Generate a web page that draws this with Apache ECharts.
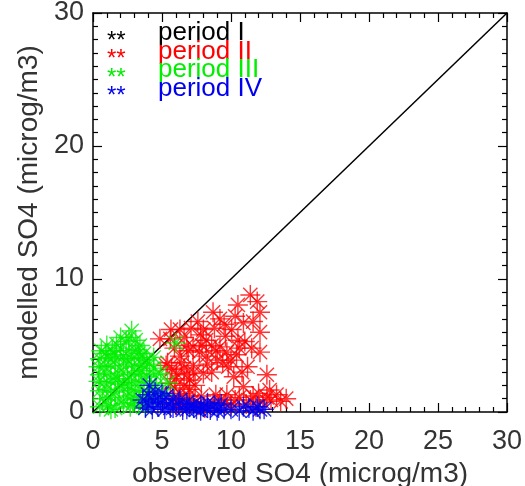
<!DOCTYPE html>
<html>
<head>
<meta charset="utf-8">
<script src="https://cdn.jsdelivr.net/npm/echarts@6/dist/echarts.min.js"></script>
<style>
  html, body { margin: 0; padding: 0; background: #fff; }
  #chart { width: 525px; height: 486px; }
</style>
</head>
<body>
<div id="chart"></div>
<script>
  // values, [observed, modelled]
  var periodNames = ['period I', 'period II', 'period III', 'period IV']
  var periodColors = ['#000000', '#ff0000', '#00ee00', '#0000ee']

  var period1 = []

  var period2 = [
    [11.4, 8.8], [11.9, 8.3], [10.5, 8.05], [12.1, 7.5], [8.7, 7.5], [10.3, 7.2],
    [9.2, 7.0], [7.6, 6.8], [11.6, 6.8], [10.9, 6.7], [9.5, 6.6], [8.8, 6.3], [6.3, 6.2],
    [5.65, 6.2], [10.05, 6.2], [7.1, 6.3], [8.0, 6.2], [12.1, 6.0], [7.8, 5.8], [9.6, 5.7],
    [6.6, 5.6], [5.6, 5.5], [4.85, 5.5], [8.2, 5.4], [10.5, 5.4], [11.0, 5.3],
    [6.8, 5.0], [7.9, 5.0], [8.6, 5.0], [9.2, 4.9], [7.25, 4.9], [5.9, 4.8], [11.5, 4.8],
    [10.6, 4.8], [6.9, 4.6], [8.9, 4.6], [7.7, 4.5], [9.7, 4.5], [12.1, 4.5], [10.4, 4.3],
    [8.2, 4.2], [6.3, 4.2], [9.0, 3.9], [10.0, 3.9], [9.4, 3.7], [5.4, 3.7], [6.4, 3.7],
    [8.3, 3.6], [7.25, 3.5], [5.3, 3.5], [11.2, 3.4], [9.8, 3.4], [6.6, 3.3], [5.7, 3.2],
    [7.3, 3.0], [8.6, 3.0], [10.8, 3.0], [6.05, 2.9], [8.0, 2.9], [6.8, 2.8], [12.6, 2.8],
    [10.2, 2.65], [6.0, 2.5], [7.0, 2.4], [5.6, 2.15], [6.6, 2.0], [7.4, 2.0],
    [10.9, 1.9], [5.9, 1.8], [7.0, 1.7], [12.8, 1.65], [6.3, 1.4], [12.0, 1.4],
    [9.7, 1.3], [13.3, 1.3], [8.9, 1.3], [7.85, 1.2], [11.6, 1.2], [6.9, 1.2], [10.6, 1.1],
    [12.6, 1.1], [6.2, 1.0], [14.0, 1.0], [5.8, 0.9], [9.2, 0.9], [10.3, 0.9], [11.4, 0.9],
    [12.9, 0.9], [7.2, 0.8], [13.6, 0.8], [12.3, 0.75], [9.6, 0.7], [8.7, 0.65], [7.6, 0.6],
    [11.1, 0.6], [10.0, 0.5], [6.0, 0.5], [6.5, 0.4], [11.8, 0.4], [8.1, 0.3]
  ]

  var period3 = [
    [0.5, 0.4], [1.1, 0.5], [1.3, 0.2], [1.6, 0.3], [2.2, 0.6], [2.7, 0.4], [3.3, 0.5], [3.8, 0.4],
    [0.7, 1.0], [1.3, 1.1], [1.9, 0.9], [2.5, 1.2], [2.9, 0.7], [3.0, 1.0], [3.6, 1.1], [4.0, 1.0],
    [0.5, 1.6], [1.0, 1.7], [1.6, 1.5], [2.2, 1.8], [2.8, 1.6], [3.4, 1.7], [3.9, 1.5],
    [0.4, 2.3], [0.8, 2.2], [1.3, 2.3], [1.9, 2.1], [2.6, 2.0], [2.5, 2.4], [3.1, 2.2], [3.7, 2.3],
    [4.2, 2.1], [1.8, 2.5], [5.4, 2.2],
    [0.5, 2.8], [1.0, 2.9], [1.6, 2.7], [2.2, 3.0], [2.8, 2.8], [3.3, 2.9], [3.9, 2.7], [4.5, 2.8],
    [0.4, 3.4], [0.8, 3.4], [1.3, 3.5], [1.9, 3.3], [2.5, 3.6], [3.0, 3.4], [3.5, 3.1], [3.6, 3.5],
    [4.4, 3.3], [4.1, 3.6],
    [0.5, 4.0], [1.1, 4.1], [1.6, 3.9], [2.2, 4.2], [2.4, 4.0], [2.8, 4.0], [3.4, 4.1], [3.9, 3.9],
    [4.4, 4.1], [0.9, 4.4], [1.6, 4.3], [3.3, 4.4],
    [0.6, 4.6], [1.4, 4.6], [2.0, 4.8], [2.6, 4.6], [3.2, 4.7], [3.7, 4.4],
    [1.0, 5.0], [1.7, 5.1], [3.4, 5.0], [2.0, 5.6], [2.4, 5.3], [2.6, 5.6], [2.8, 6.1], [3.1, 5.4],
    [4.6, 2.0], [5.1, 1.3], [4.9, 2.9], [4.3, 1.0], [6.0, 5.2]
  ]

  var period4 = [
    [4.1, 2.0], [4.5, 1.5], [5.0, 1.4], [4.0, 1.3], [5.3, 1.2], [4.7, 1.0], [5.8, 1.0],
    [3.6, 0.9], [6.3, 0.9], [4.4, 0.8], [4.9, 0.7], [3.9, 0.7], [6.8, 0.7], [8.3, 0.7],
    [5.5, 0.6], [6.2, 0.6], [7.3, 0.6], [9.3, 0.6], [7.8, 0.5], [8.8, 0.5],
    [3.8, 0.3], [4.3, 0.2], [4.7, 0.4], [5.2, 0.2], [5.6, 0.3], [5.8, 0.3],
    [6.5, 0.15], [6.8, 0.2], [7.0, 0.4], [7.3, 0.3], [7.5, 0.2], [7.8, 0.1], [8.0, 0.4],
    [8.3, 0.3], [8.5, 0.15], [9.0, 0.1], [9.1, 0.3], [9.5, 0.2], [10.0, 0.2], [10.6, 0.1],
    [10.9, 0.4], [11.3, 0.3], [11.6, 0.1], [11.9, 0.4], [12.1, 0.2], [12.4, 0.2]
  ]

  var oneToOne = [[0, 0], [30, 30]]
  var xTicks = { min: 0, max: 30, interval: 5 }
  var yTicks = { min: 0, max: 30, interval: 10 }

  var star = 'path://M0,-1L0,1M-1,0L1,0M-0.71,-0.71L0.71,0.71M-0.71,0.71L0.71,-0.71'
  var labelFont = 'Liberation Sans'
  var textColor = '#333'

  function boxAxis (ticks, minorSplit, pos, showLabels, name) {
    return {
      type: 'value',
      position: pos,
      min: ticks.min,
      max: ticks.max,
      interval: ticks.interval,
      name: name,
      nameLocation: 'middle',
      nameGap: pos === 'bottom' ? 46 : 46,
      nameTextStyle: { fontSize: 28, color: textColor, fontFamily: labelFont },
      axisLine: { show: true, onZero: false, lineStyle: { color: '#000', width: 1.5 } },
      axisTick: { show: true, inside: true, length: 9, lineStyle: { color: '#000', width: 1.2 } },
      minorTick: { show: true, splitNumber: minorSplit, length: 5, lineStyle: { color: '#000', width: 1.2 } },
      axisLabel: { show: showLabels, fontSize: 27, color: textColor, fontFamily: labelFont, margin: pos === 'bottom' ? 16 : 9 },
      splitLine: { show: false }
    }
  }

  function starSeries (idx, data) {
    return {
      name: periodNames[idx],
      type: 'scatter',
      data: data,
      symbol: star,
      symbolSize: 20,
      xAxisIndex: 0,
      yAxisIndex: 0,
      itemStyle: { color: periodColors[idx], borderColor: periodColors[idx], borderWidth: 1.4 },
      emphasis: { disabled: true },
      animation: false
    }
  }

  var legendText = []
  for (var i = 0; i < periodNames.length; i++) {
    legendText.push({
      type: 'text', left: 107, top: 29 + i * 18.5,
      style: { text: '**', fill: periodColors[i], font: '24px ' + labelFont }
    })
    legendText.push({
      type: 'text', left: 158, top: 20 + i * 18.5,
      style: { text: periodNames[i], fill: periodColors[i], font: '26px ' + labelFont }
    })
  }

  var chart = echarts.init(document.getElementById('chart'))
  chart.setOption({
    animation: false,
    backgroundColor: '#fff',
    grid: { left: 93, right: 18, top: 13, bottom: 74, containLabel: false, outerBoundsMode: 'none' },
    xAxis: [
      boxAxis(xTicks, 5, 'bottom', true, 'observed SO4 (microg/m3)'),
      boxAxis(xTicks, 5, 'top', false, '')
    ],
    yAxis: [
      boxAxis(yTicks, 10, 'left', true, 'modelled SO4 (microg/m3)'),
      boxAxis(yTicks, 10, 'right', false, '')
    ],
    graphic: legendText,
    series: [
      {
        type: 'line',
        data: oneToOne,
        symbol: 'none',
        lineStyle: { color: '#000', width: 1.5 },
        z: 1,
        animation: false
      },
      starSeries(0, period1),
      starSeries(1, period2),
      starSeries(2, period3),
      starSeries(3, period4)
    ]
  })
</script>
</body>
</html>
